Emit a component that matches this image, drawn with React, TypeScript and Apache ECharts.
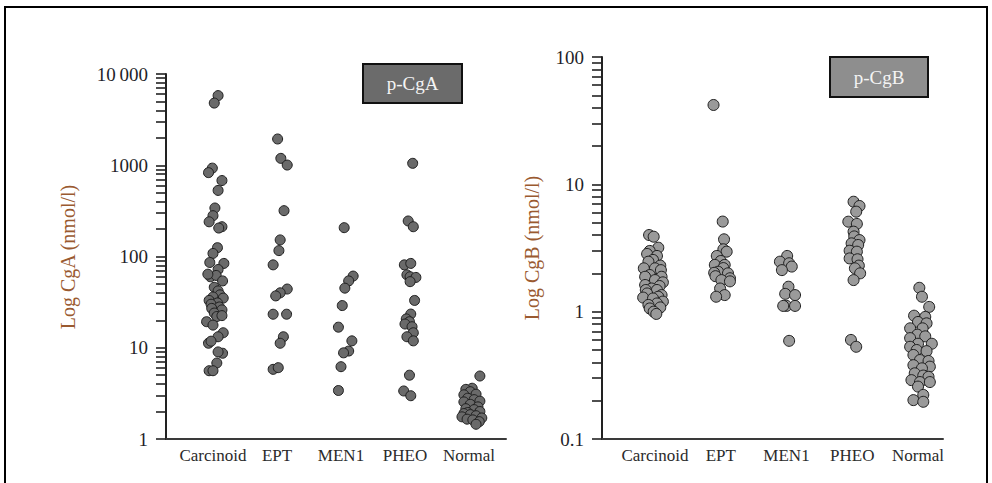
import React, { useEffect, useRef } from 'react';
import * as echarts from 'echarts';

const categories = ['Carcinoid', 'EPT', 'MEN1', 'PHEO', 'Normal'];

// Each point: [horizontal jitter as fraction of category step, value in nmol/l]
const cgaCarcinoid = [
  [0.08, 5800], [0.02, 4800], [-0.01, 930], [-0.07, 830], [0.14, 680], [0.08, 530], [0.03, 340],
  [0, 280], [-0.06, 240], [0.14, 212], [0.09, 205], [0.07, 125], [0, 108], [-0.05, 86], [0.17, 84],
  [0.08, 72], [-0.04, 60], [0.05, 62], [0.15, 54], [-0.08, 64], [0.02, 46], [0.08, 42], [0.11, 38],
  [0, 36], [0.16, 35], [-0.06, 33], [0.07, 31], [-0.03, 30], [0.1, 28], [-0.02, 27], [0.14, 26],
  [0.02, 24], [0.06, 22], [0.14, 22.5], [-0.1, 19.3], [0, 17.7], [0.16, 14.6], [0.08, 13.2],
  [-0.07, 11.2], [-0.03, 11.8], [0.15, 8.7], [0.08, 9], [0.06, 6.8], [-0.06, 5.6], [0, 5.6],
];
const cgaEPT = [
  [0.01, 1940], [0.06, 1190], [0.16, 1005], [0.11, 318], [0.05, 152], [0.03, 116], [-0.06, 81],
  [0.16, 44], [0.05, 40], [-0.02, 37], [-0.06, 23.3], [0.15, 23.3], [0.1, 13.2], [0.05, 11.2],
  [-0.06, 5.8], [0.02, 6.05],
];
const cgaMEN1 = [
  [0.05, 207], [0.19, 61], [0.12, 54], [0.06, 45], [0.02, 29], [-0.04, 16.8], [0.17, 11.9],
  [0.12, 9.2], [0.04, 8.8], [0, 6.2], [-0.04, 3.4],
];
const cgaPHEO = [
  [0.12, 1050], [0.05, 245], [0.13, 212], [-0.01, 81], [0.09, 84], [0.03, 63], [0.08, 60],
  [0.17, 59], [0.08, 53], [0.15, 33], [0.09, 23.4], [0.02, 20.7], [0.07, 19.3], [0, 18.2],
  [0.11, 17], [0.13, 14.6], [0.03, 13.2], [0.13, 11.9], [0.07, 5.0], [-0.02, 3.36], [0.09, 2.98],
];
const cgaNormal = [
  [0.17, 4.9], [0.05, 3.6], [-0.05, 3.5], [0.02, 3.3], [0.11, 3.1], [-0.08, 3.05], [-0.02, 2.8],
  [0.08, 2.7], [0.17, 2.6], [-0.08, 2.55], [0.02, 2.4], [0.14, 2.25], [-0.05, 2.15], [0.08, 2.1],
  [0.17, 2.0], [-0.02, 1.95], [-0.08, 1.9], [0.02, 1.85], [0.11, 1.8], [-0.11, 1.75], [0.2, 1.7],
  [-0.03, 1.65], [0.06, 1.62], [0.16, 1.55], [0.11, 1.45],
];

const cgbCarcinoid = [
  [-0.09, 4.0], [-0.02, 3.88], [0.05, 3.18], [-0.08, 3.0], [-0.12, 2.84], [0.03, 2.74], [-0.03, 2.55],
  [-0.1, 2.47], [0.08, 2.3], [-0.17, 2.19], [0, 2.19], [0.09, 2.12], [-0.08, 1.94], [0.1, 1.88],
  [-0.15, 1.88], [0, 1.77], [0.12, 1.7], [-0.15, 1.62], [0.07, 1.59], [-0.05, 1.52], [0.03, 1.48],
  [-0.14, 1.48], [-0.12, 1.39], [0.1, 1.35], [0.05, 1.31], [-0.18, 1.29], [-0.03, 1.27], [0.12, 1.2],
  [0.03, 1.16], [-0.1, 1.13], [0.08, 1.08], [-0.08, 1.06], [-0.02, 1.0], [0.02, 0.96],
];
const cgbEPT = [
  [-0.11, 42], [0.03, 5.1], [0.05, 3.7], [0.04, 3.09], [0.09, 2.96], [-0.06, 2.74], [0, 2.5],
  [-0.09, 2.33], [0.06, 2.33], [0.04, 2.2], [-0.04, 2.06], [-0.1, 2.02], [0.11, 2.0], [-0.08, 1.9],
  [0.14, 1.83], [0.01, 1.77], [0.14, 1.73], [-0.01, 1.52], [0.06, 1.35], [-0.07, 1.31],
];
const cgbMEN1 = [
  [0.01, 2.74], [-0.1, 2.47], [0.04, 2.4], [0.08, 2.26], [-0.07, 2.12], [0.03, 1.57], [-0.02, 1.38],
  [0.13, 1.35], [0, 1.11], [0.13, 1.11], [-0.05, 1.11], [0.04, 0.59],
];
const cgbPHEO = [
  [0.02, 7.3], [0.11, 6.76], [0.06, 6.1], [-0.06, 5.09], [0.07, 4.89], [0.02, 4.25], [0.03, 3.9],
  [0.11, 3.65], [-0.01, 3.44], [0.09, 3.34], [-0.04, 3.01], [0.07, 2.96], [-0.04, 2.62], [0.08, 2.58],
  [0.1, 2.3], [0.04, 2.19], [0.12, 2.0], [0.02, 1.77], [-0.02, 0.6], [0.06, 0.53],
];
const cgbNormal = [
  [0.02, 1.54], [0.06, 1.31], [0.17, 1.09], [-0.06, 0.93], [0.11, 0.91], [0, 0.83], [0.13, 0.81],
  [0.07, 0.74], [-0.12, 0.74], [-0.01, 0.66], [0.11, 0.64], [-0.12, 0.62], [0.21, 0.56], [0, 0.56],
  [-0.12, 0.53], [-0.02, 0.5], [0.13, 0.49], [-0.07, 0.457], [0.03, 0.417], [0.16, 0.41],
  [-0.07, 0.38], [0.18, 0.37], [0.06, 0.359], [-0.05, 0.328], [0.08, 0.315], [0.16, 0.308],
  [-0.1, 0.29], [0.03, 0.28], [0.18, 0.28], [0, 0.258], [0.08, 0.222], [-0.07, 0.202], [0.08, 0.196],
];

const cgaGroups = [cgaCarcinoid, cgaEPT, cgaMEN1, cgaPHEO, cgaNormal];
const cgbGroups = [cgbCarcinoid, cgbEPT, cgbMEN1, cgbPHEO, cgbNormal];

const cgaTickLabels = [1, 10, 100, 1000, 10000];
const cgbTickLabels = [0.1, 1, 10, 100];
const minorMultipliers = [1, 2, 3, 4, 5, 6, 7, 8, 9];

const FONT = 'Liberation Serif';

function buildPoints(groups: number[][][]) {
  const out: number[][] = [];
  groups.forEach((g, i) => g.forEach(([dx, v]) => out.push([i + 1 + dx, v])));
  return out;
}

function tickLogs(decades: number[]) {
  const out: number[] = [];
  for (let d = 0; d < decades.length - 1; d++) {
    minorMultipliers.forEach((m) => out.push(Math.log10(decades[d] * m)));
  }
  out.push(Math.log10(decades[decades.length - 1]));
  return out;
}

function xAxisFor(gridIndex: number, min: number, max: number) {
  return {
    type: 'value',
    gridIndex,
    min,
    max,
    axisLine: { show: true, onZero: false, lineStyle: { color: '#3a3a3a', width: 2 } },
    axisTick: { show: false },
    splitLine: { show: false },
    axisLabel: {
      customValues: [1, 2, 3, 4, 5],
      formatter: (v: number) => categories[Math.round(v) - 1] ?? '',
      fontFamily: FONT,
      fontSize: 17,
      color: '#2a2a2a',
      margin: 8,
    },
  };
}

function logAxisFor(gridIndex: number, min: number, max: number) {
  return {
    type: 'log',
    logBase: 10,
    gridIndex,
    position: 'left',
    min,
    max,
    axisLine: { show: true, lineStyle: { color: '#222', width: 2 } },
    axisTick: { show: false },
    splitLine: { show: false },
    axisLabel: {
      fontFamily: FONT,
      fontSize: 19,
      color: '#1f1f2a',
      margin: 18,
      formatter: (v: number) => (v === 10000 ? '10\u2009000' : String(v)),
    },
  };
}

function tickAxisFor(gridIndex: number, decades: number[]) {
  return {
    type: 'value',
    gridIndex,
    position: 'left',
    offset: 0,
    min: Math.log10(decades[0]),
    max: Math.log10(decades[decades.length - 1]),
    axisLine: { show: false },
    axisLabel: { show: false },
    splitLine: { show: false },
    axisTick: {
      show: true,
      inside: false,
      customValues: tickLogs(decades),
      length: 10,
      lineStyle: { color: '#222', width: 1.6 },
    },
  };
}

const option = {
  animation: false,
  backgroundColor: '#ffffff',
  grid: [
    { left: 166, top: 74, width: 340, height: 365 },
    { left: 602, top: 57, width: 341, height: 382 },
  ],
  xAxis: [xAxisFor(0, 0.266, 5.578), xAxisFor(1, 0.194, 5.38)],
  yAxis: [
    logAxisFor(0, 1, 10000),
    tickAxisFor(0, cgaTickLabels),
    logAxisFor(1, 0.1, 100),
    tickAxisFor(1, cgbTickLabels),
  ],
  series: [
    {
      type: 'scatter',
      xAxisIndex: 0,
      yAxisIndex: 0,
      symbol: 'circle',
      symbolSize: 10,
      data: buildPoints(cgaGroups),
      itemStyle: { color: '#6a6a6a', borderColor: '#1e1e1e', borderWidth: 1, opacity: 1 },
    },
    {
      type: 'scatter',
      xAxisIndex: 1,
      yAxisIndex: 2,
      symbol: 'circle',
      symbolSize: 11,
      data: buildPoints(cgbGroups),
      itemStyle: { color: '#9a9a9a', borderColor: '#1e1e1e', borderWidth: 1, opacity: 1 },
    },
  ],
  graphic: [
    {
      type: 'rect',
      shape: { x: 5, y: 7, width: 982, height: 500 },
      style: { fill: 'none', stroke: '#000', lineWidth: 2 },
      silent: true,
    },
    {
      type: 'rect',
      shape: { x: 363, y: 64, width: 99, height: 39 },
      style: { fill: '#6b6b6b', stroke: '#111', lineWidth: 2 },
    },
    {
      type: 'text',
      x: 412.5,
      y: 83.5,
      style: {
        text: 'p-CgA', fill: '#f4f4f4', font: `19px "${FONT}"`,
        textAlign: 'center', textVerticalAlign: 'middle',
      },
    },
    {
      type: 'rect',
      shape: { x: 830, y: 57, width: 98, height: 40 },
      style: { fill: '#8e8e8e', stroke: '#111', lineWidth: 2 },
    },
    {
      type: 'text',
      x: 879,
      y: 77,
      style: {
        text: 'p-CgB', fill: '#f4f4f4', font: `19px "${FONT}"`,
        textAlign: 'center', textVerticalAlign: 'middle',
      },
    },
    {
      type: 'text',
      x: 68,
      y: 257,
      rotation: Math.PI / 2,
      style: {
        text: 'Log CgA (nmol/l)', fill: '#9a5a30', font: `20px "${FONT}"`,
        textAlign: 'center', textVerticalAlign: 'middle',
      },
    },
    {
      type: 'text',
      x: 532,
      y: 248,
      rotation: Math.PI / 2,
      style: {
        text: 'Log CgB (nmol/l)', fill: '#9a5a30', font: `20px "${FONT}"`,
        textAlign: 'center', textVerticalAlign: 'middle',
      },
    },
  ],
};

export default function App() {
  const ref = useRef<HTMLDivElement>(null);
  useEffect(() => {
    const chart = echarts.init(ref.current as HTMLDivElement, null, { renderer: 'svg' });
    chart.setOption(option as any);
    return () => chart.dispose();
  }, []);
  return (
    <div
      ref={ref}
      style={{ position: 'fixed', left: 0, top: 0, width: 992, height: 483, background: '#fff' }}
    />
  );
}
